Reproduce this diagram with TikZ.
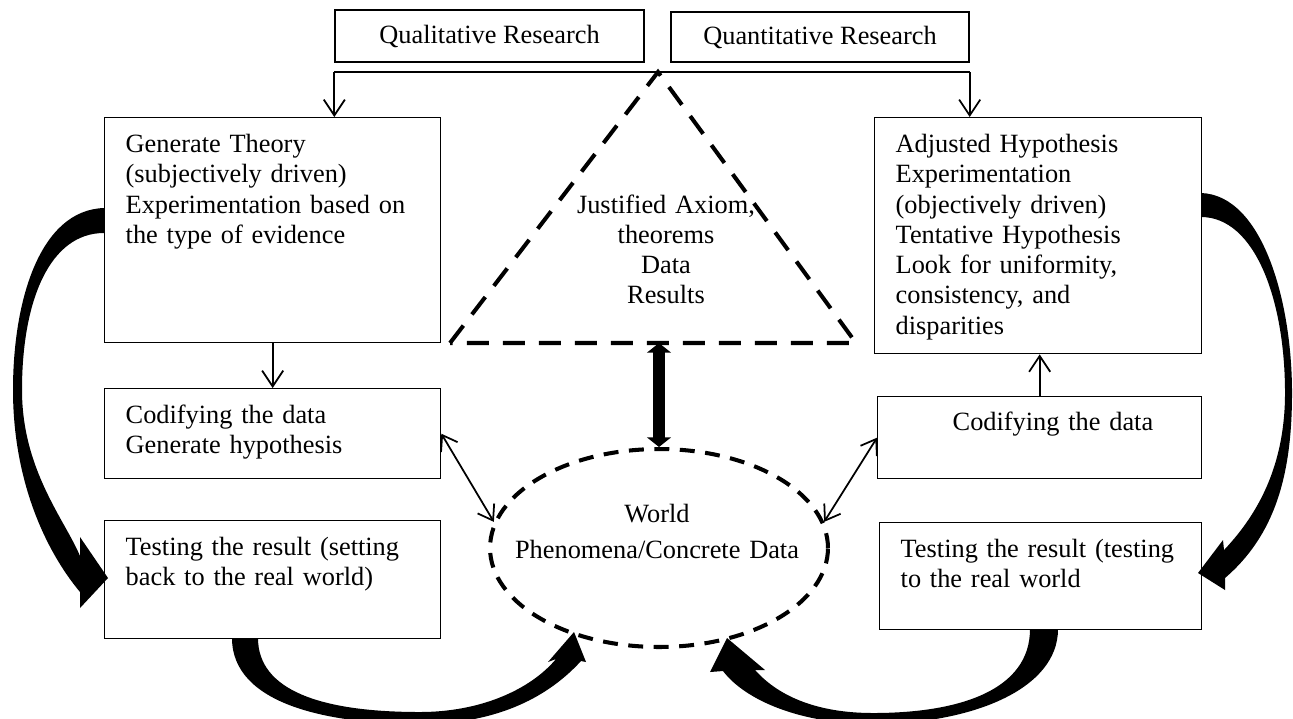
\documentclass[tikz,border=0pt]{standalone}
\usepackage{fontspec}
\setmainfont{Liberation Serif}
\usetikzlibrary{arrows.meta,shapes.geometric}

\tikzset{
  cell/.style={draw,line width=0.8pt,anchor=north west,align=left,
    inner xsep=0.42cm,inner ysep=0pt,text height=0.70cm},
  headbox/.style={draw,line width=0.8pt,inner sep=0pt},
  thinarrow/.style={line width=1pt,-{Straight Barb[length=9pt,width=12pt]}},
  twoway/.style={line width=1pt,
    {Straight Barb[length=8pt,width=11pt]}-{Straight Barb[length=8pt,width=11pt]}},
  bigarrow/.style={line width=6.5pt,
    {Triangle[length=5.5pt,width=13.5pt]}-{Triangle[length=5.5pt,width=13.5pt]}},
  dashline/.style={line width=2.3pt,dash pattern=on 12.5pt off 8pt},
  bandfill/.style={fill=black,draw=none}
}

\begin{document}
\begin{tikzpicture}[x=0.02cm,y=-0.02cm,
    every node/.style={font=\fontsize{15pt}{17.2pt}\selectfont}]
  \useasboundingbox (0,0) rectangle (1293,718);
  \clip (0,0) rectangle (1293,718);

  % headings
  \node[headbox,minimum width=6.18cm,minimum height=1.04cm] (qual) at (489.5,36) {Qualitative Research};
  \node[headbox,minimum width=5.96cm,minimum height=1cm] (quan) at (820,37) {Quantitative Research};

  % left column
  \node[cell,text width=5.88cm,text depth=3.80cm] (theory) at (104,117)
    {Generate Theory\\(subjectively driven)\\Experimentation based on\\the type of evidence};
  \node[cell,text width=5.88cm,text depth=1.10cm] (codL) at (104,388)
    {Codifying the data\\Generate hypothesis};
  \node[cell,text width=5.88cm,text depth=1.66cm] (testL) at (104,520)
    {Testing the result (setting\\back to the real world)};

  % right column
  \node[cell,text width=5.70cm,text depth=4.02cm] (hypo) at (874,117)
    {Adjusted Hypothesis\\Experimentation\\(objectively driven)\\Tentative Hypothesis\\Look for uniformity,\\consistency, and\\disparities};
  \node[cell,text width=5.64cm,text height=0.68cm,text depth=0.96cm] (codR) at (877,396)
    {\hspace*{1.08cm}Codifying the data};
  \node[cell,text width=5.60cm,text depth=1.44cm] (testR) at (879,522)
    {Testing the result (testing\\to the real world};

  % triangle
  \coordinate (triL) at (450,343);
  \coordinate (apex) at (658,72);
  \coordinate (triR) at (856,343);
  \draw[dashline] (triL) -- (apex) -- (triR) -- cycle;
  \node[text width=4cm,align=center,anchor=base] (axiom) at (666,213)
    {Justified Axiom,\\theorems\\Data\\Results};

  % world
  \node[ellipse,draw,dashline,dash pattern=on 8.5pt off 6pt,minimum width=6.76cm,
    minimum height=3.96cm,inner sep=0pt] (world) at (659,548) {};
  \node[text width=6cm,align=center,anchor=base] (worldtext) at (657,522)
    {World\\[0.12cm]Phenomena/Concrete Data};

  % thin connectors
  \coordinate (busL) at (qual.west |- apex);
  \coordinate (busR) at (quan.east |- apex);
  \draw[line width=1.6pt] (busL) -- (busR);
  \draw[thinarrow] (busL) -- (busL |- theory.north);
  \draw[thinarrow] (busR) -- (busR |- hypo.north);
  \draw[thinarrow] (theory.south) -- (codL.north);
  \draw[thinarrow] (codR.north) -- (codR.north |- hypo.south);
  \draw[twoway] (codL.east) -- (world.171);
  \draw[twoway] (codR.west) -- (world.9);
  \draw[bigarrow] (world.north |- triL) -- (world.north);

  % thick curved arrows
  \fill[bandfill] (104,208) .. controls (40,210) and (13,300) .. (13,390)
    .. controls (13,480) and (45,550) .. (80,592)
    -- (80,608) -- (108,578) -- (80,537) -- (80,556)
    .. controls (65,520) and (22,470) .. (22,390)
    .. controls (22,300) and (50,233) .. (104,233) -- cycle;
  \fill[bandfill] (1201,193) .. controls (1262,195) and (1292,300) .. (1292,393)
    .. controls (1292,475) and (1275,535) .. (1225,578)
    -- (1225,590) -- (1198,573) -- (1223,540) -- (1224,550)
    .. controls (1262,510) and (1285,460) .. (1285,393)
    .. controls (1285,300) and (1255,217) .. (1201,217) -- cycle;
  \fill[bandfill] (232,638) .. controls (232,705) and (330,724) .. (420,724)
    .. controls (500,724) and (550,695) .. (581,661)
    -- (586,662) -- (574,632) -- (548,662) -- (556,659)
    .. controls (530,690) and (480,712) .. (420,712)
    .. controls (320,712) and (258,690) .. (258,638) -- cycle;
  \fill[bandfill] (1058,629) .. controls (1058,690) and (970,724) .. (873,724)
    .. controls (800,724) and (745,700) .. (723,671)
    -- (710,672) -- (727,638) -- (765,670) -- (755,670)
    .. controls (780,698) and (820,713) .. (873,713)
    .. controls (960,713) and (1030,690) .. (1030,629) -- cycle;
\end{tikzpicture}
\end{document}
